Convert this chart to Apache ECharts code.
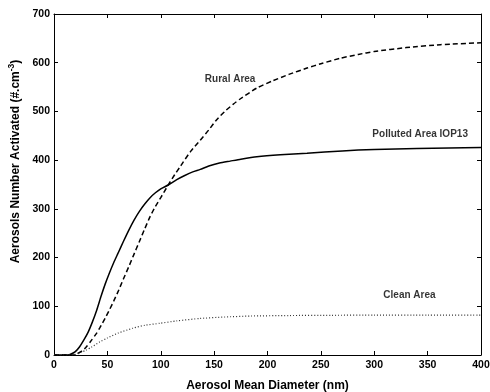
<!DOCTYPE html>
<html>
<head>
<meta charset="utf-8">
<script src="https://cdn.jsdelivr.net/npm/echarts@6/dist/echarts.min.js"></script>
<style>html,body{margin:0;padding:0;background:#fff}#c{width:490px;height:392px}</style>
</head>
<body>
<div id="c"></div>
<script>
// Polluted Area IOP13 (solid)
var pollutedX = [0,10,13,16,20,24,28,32,36,40,44,48,52,56,60,65,70,75,80,85,90,95,100,107,115,122,130,137,145,155,165,175,190,212,237,270,300,340,370,400];
var pollutedY = [0,0,0,2,7,17,31,47,68,92,120,146,169,190,209,233,256,277,295,310,323,333,341,349,360,368,376,381,388,394,398,402,407,411,414,419,422,424,425,426];
// Rural Area (dashed)
var ruralX = [0,15,18,22,26,30,35,40,43,48,52,56,60,65,70,74,80,85,90,95,100,107,113,118,121,128,137,145,152,160,168,174,190,205,220,237,250,268,285,300,330,362,400];
var ruralY = [0,0,0,3,8,16,30,45,56,76,93,111,130,156,181,202,233,259,284,305,323,349,370,386,396,418,441,462,482,500,515,525,548,563,576,589,598,609,617,623,631,637,641];
// Clean Area (dotted)
var cleanX = [0,18,20,25,30,35,43,50,60,74,85,99,115,137,160,184,220,260,300,350,400];
var cleanY = [0,0,1,5,10,16,27,35,45,55,61,65,70,75,78,80,81,81.5,82,82,82];
// Curve labels
var labelTexts = ['Rural Area','Polluted Area IOP13','Clean Area'];
var labelX = [165,343,333];
var labelY = [567,453,122];

var xTicks = {min:0,max:400,interval:50};
var yTicks = {min:0,max:700,interval:100};

function pairs(xs, ys){ return xs.map(function(x,i){return [x, ys[i]];}); }

var chart = echarts.init(document.getElementById('c'), null, {renderer:'canvas'});
var font = 'Liberation Sans, Arial, Helvetica, sans-serif';
var axisBase = {
  type:'value',
  axisLine:{show:true,onZero:false,lineStyle:{color:'#000',width:1}},
  axisTick:{show:true,inside:true,length:4,lineStyle:{color:'#000'}},
  splitLine:{show:false}
};
var option = {
  backgroundColor:'#fff',
  animation:false,
  grid:{left:54,right:9,top:14,bottom:37,containLabel:false,outerBoundsMode:'none'},
  xAxis:[
    Object.assign({}, axisBase, {
      position:'bottom', min:xTicks.min, max:xTicks.max, interval:xTicks.interval,
      axisLabel:{color:'#000',fontSize:10.5,fontWeight:'bold',fontFamily:font,margin:5},
      name:'Aerosol Mean Diameter (nm)', nameLocation:'middle', nameGap:25,
      nameTextStyle:{color:'#000',fontSize:12,fontWeight:'bold',fontFamily:font}
    }),
    Object.assign({}, axisBase, {
      position:'top', min:xTicks.min, max:xTicks.max, interval:xTicks.interval,
      axisLabel:{show:false}
    })
  ],
  yAxis:[
    Object.assign({}, axisBase, {
      position:'left', min:yTicks.min, max:yTicks.max, interval:yTicks.interval,
      axisLabel:{color:'#000',fontSize:10.5,fontWeight:'bold',fontFamily:font,margin:4},
      name:'{a|Aerosols Number Activated (#.cm}{s|-3}{a|)}', nameLocation:'middle', nameGap:27, nameRotate:90,
      nameTextStyle:{color:'#000',fontSize:12,fontWeight:'bold',fontFamily:font,padding:[0,0,0,46],
        rich:{a:{color:'#000',fontSize:12,fontWeight:'bold',fontFamily:font},
              s:{color:'#000',fontSize:8.5,fontWeight:'bold',fontFamily:font,verticalAlign:'bottom',padding:[0,0,7,0]}}}
    }),
    Object.assign({}, axisBase, {
      position:'right', min:yTicks.min, max:yTicks.max, interval:yTicks.interval,
      axisLabel:{show:false}
    })
  ],
  series:[
    {type:'line', name:'Rural Area', data:pairs(ruralX, ruralY), showSymbol:false, smooth:0.2,
      lineStyle:{color:'#000',width:1.5,type:[5,3]}},
    {type:'line', name:'Polluted Area IOP13', data:pairs(pollutedX, pollutedY), showSymbol:false, smooth:0.2,
      lineStyle:{color:'#000',width:1.5,type:'solid'}},
    {type:'line', name:'Clean Area', data:pairs(cleanX, cleanY), showSymbol:false, smooth:0.2,
      lineStyle:{color:'#333',width:1.2,type:[1,2]}},
    {type:'scatter', data:labelX.map(function(x,i){return {value:[x,labelY[i]], name:labelTexts[i]};}),
      symbolSize:0, silent:true,
      label:{show:true, position:'inside', formatter:'{b}', color:'#000', fontSize:10, fontWeight:'bold', fontFamily:font}}
  ]
};
chart.setOption(option);
</script>
</body>
</html>
